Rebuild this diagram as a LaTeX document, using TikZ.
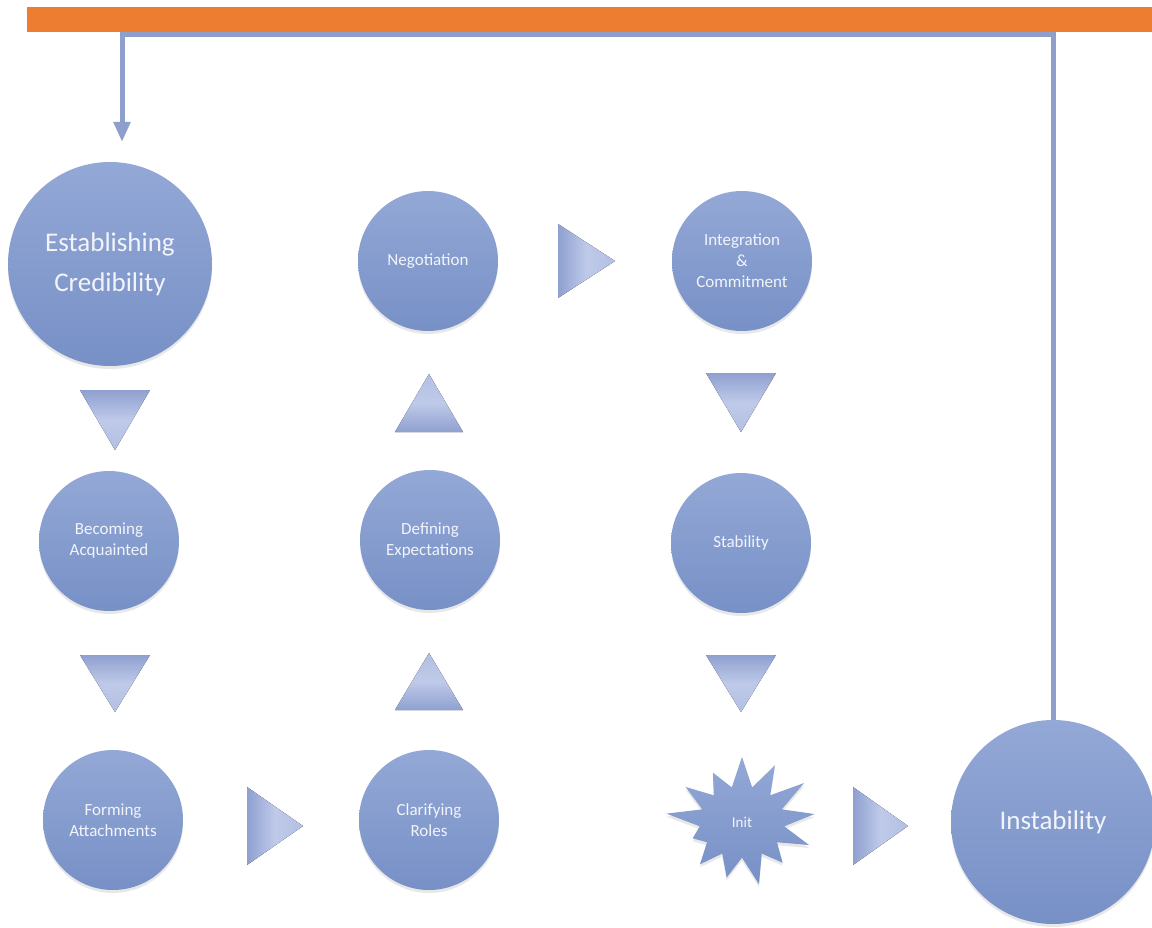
\documentclass[tikz,border=0pt]{standalone}
\usepackage{fontspec}
\setmainfont{Carlito}
\usetikzlibrary{shapes.symbols,shadows,arrows.meta}
\definecolor{orangebar}{HTML}{ED7D31}
\definecolor{linec}{HTML}{8E9FCB}
\definecolor{circtop}{HTML}{93A8D6}
\definecolor{circbot}{HTML}{7790C6}
\definecolor{txt}{HTML}{F2F4FA}
\definecolor{tridark}{HTML}{8FA0D0}
\definecolor{trilight}{HTML}{BFCAE9}
\begin{document}
\begin{tikzpicture}[x=1pt,y=-1pt,
  bubble/.style={circle, top color=circtop, bottom color=circbot, draw=none, text=txt, align=center, inner sep=0pt,
    drop shadow={opacity=0.18, shadow xshift=0pt, shadow yshift=-3pt}},
  smallbub/.style={bubble, minimum size=140pt, font=\fontsize{17}{21}\selectfont},
  bigbub/.style={bubble, minimum size=204pt, font=\fontsize{27}{40}\selectfont},
  downtri/.style={top color=tridark, bottom color=trilight!75!tridark, middle color=trilight},
  uptri/.style={bottom color=tridark, top color=trilight!75!tridark, middle color=trilight},
  righttri/.style={left color=tridark, right color=trilight!75!tridark, middle color=trilight},
  loopline/.style={draw=linec, line width=5pt, line join=miter},
]
\useasboundingbox (0,0) rectangle (1152,928);
\fill[white] (0,0) rectangle (1152,928);
% orange bar
\fill[orangebar] (27,7) rectangle (1152,32);

% nodes
\node[bigbub] (est) at (110,264) {Establishing\\Credibility};
\node[smallbub] (neg) at (428,261) {Negotiation};
\node[smallbub] (integ) at (742,261) {Integration\\\&\\Commitment};
\node[smallbub] (beco) at (109,541) {Becoming\\Acquainted};
\node[smallbub] (defi) at (430,540) {Defining\\Expectations};
\node[smallbub] (stab) at (741,543) {Stability};
\node[smallbub] (form) at (113,820) {Forming\\Attachments};
\node[smallbub] (clar) at (429,820) {Clarifying\\Roles};
\node[starburst, starburst points=13, starburst point height=36pt, inner sep=20pt,
      random starburst=37,
      top color=circtop, bottom color=circbot, text=txt,
      font=\fontsize{15}{20}\selectfont,
      drop shadow={opacity=0.18, shadow xshift=0pt, shadow yshift=-3pt}] (init) at (742,822) {Init};
\node[bigbub] (inst) at (1053,822) {Instability};

% triangles
\fill[downtri] (80,390) -- (150,390) -- (115,450) -- cycle;
\fill[downtri] (80,655) -- (150,655) -- (115,712) -- cycle;
\fill[uptri] (395,432) -- (463,432) -- (429,374) -- cycle;
\fill[uptri] (395,710) -- (463,710) -- (429,653) -- cycle;
\fill[downtri] (706,373) -- (776,373) -- (741,432) -- cycle;
\fill[downtri] (706,655) -- (776,655) -- (741,712) -- cycle;
\fill[righttri] (558,224) -- (558,298) -- (615,261) -- cycle;
\fill[righttri] (247,787) -- (247,865) -- (303,826) -- cycle;
\fill[righttri] (853,787) -- (853,865) -- (908,826) -- cycle;

% feedback line
\coordinate (corner) at (122,35);
\coordinate (tip) at (122,142);
\draw[loopline, -{Triangle[width=16pt,length=20pt]}] (inst.north) |- (corner) -- (tip);
\end{tikzpicture}
\end{document}
